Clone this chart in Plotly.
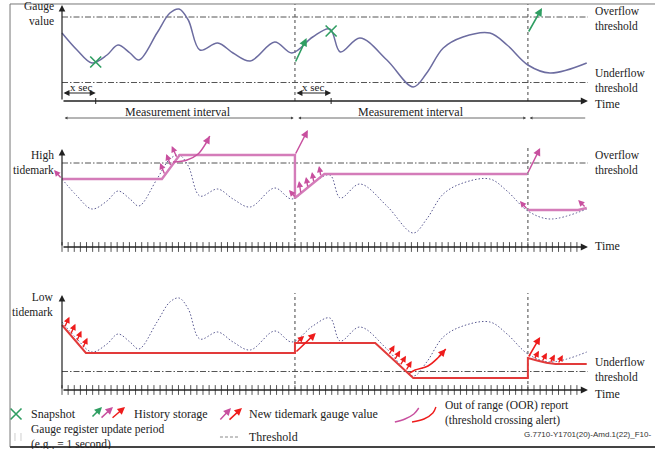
import plotly.graph_objects as go

# ---------------- data (time in seconds, gauge value in arbitrary units) ----------------
gauge_t = [0, 2.45, 4.89, 7.34, 9.14, 11.09, 12.56, 15.5, 17.6, 19.1, 20.6, 22.5, 25.4, 27.9,
           30.7, 34.7, 37.5, 40.9, 43.7, 45.4, 48.6, 53.0, 57.3, 59.5, 62.2, 65.4, 69.8, 72.6,
           76.0, 79.6, 85.6]
gauge_v = [68, 51, 38, 46, 56, 48, 41, 68, 88, 92, 81, 51, 58, 48,
           40, 59, 48, 64, 72, 49, 63, 41, 14, 28, 53, 64, 68, 56,
           36, 28, 38]
snapshot_t = [5.5, 43.9]
snapshot_v = [39, 70]
interval_starts = [0, 38, 76]
time_axis_end = 85.8
overflow_threshold = 84
underflow_threshold = 18.5
tick_t = list(range(0, 85))

high_t = [0, 16.3, 19.2, 38, 38, 42.8, 75.9]
high_v = [68, 68, 92, 92, 49, 73, 73]
high2_t = [76, 84.2, 85.6]
high2_v = [37, 37, 39]

low_t = [0, 3.9, 38, 38, 51.1, 57.3, 76, 76, 77.5, 79, 80.5, 85.6]
low_v = [65, 37, 37, 47, 47, 12, 12, 32, 29.5, 27.3, 26, 26]

# arrows: (t_start, v_start, t_end, v_end)
history_arrows = [(38, 38, 39.9, 63), (76, 68, 78.3, 93)]
high_new_arrows = [(0, 68, -1.3, 77), (16.8, 72, 16.0, 84), (17.8, 80.4, 17.0, 93), (18.8, 88.7, 17.9, 101),
                   (38.17, 49, 37.03, 57), (38.99, 53, 38.66, 66), (40.13, 59, 39.8, 70),
                   (41.1, 64, 40.78, 75), (42.25, 70.3, 41.92, 81), (76, 37, 74.7, 46), (85.5, 39, 84.2, 47)]
high_oor_arrows = [(38, 92, 40.1, 117), (75.9, 73, 78.0, 99)]
high_oor_curve_t = [18.1, 20.4, 22.2, 23.5, 24.1]
high_oor_curve_v = [85, 87, 93, 104, 111]

low_new_arrows = [(0.39, 62.2, 1.21, 73.2), (1.37, 55.2, 2.19, 66.2), (2.35, 48.2, 3.17, 59.2), (3.33, 41.2, 4.15, 52.2),
                  (38.2, 47, 39.5, 54),
                  (53.27, 34.75, 54.25, 44.75), (54.2, 29.5, 55.18, 39.5), (55.13, 24.25, 56.11, 34.25), (56.06, 19, 57.04, 29),
                  (77, 30.3, 77.8, 39.3), (78.3, 28.2, 79.1, 37.2), (79.6, 26.6, 80.4, 35.6), (80.9, 26, 81.7, 35)]
low_oor_arrows = [(38, 37, 41.4, 57), (76, 32, 78, 53)]
low_oor_curve_t = [56.6, 57.6, 59.7, 61.3, 62.6]
low_oor_curve_v = [16.5, 20, 24, 32, 41]

# ---------------- styling ----------------
SERIF = "Liberation Serif, Times New Roman, Times, DejaVu Serif, serif"
SANS = "Liberation Sans, Arial, sans-serif"
GRAPH = "#6c6ca0"
DOT = "#5a5a92"
PINK = "#d47cb9"
PINK_A = "#c8509f"
RED = "#e23a3a"
RED_A = "#ee1c1c"
GREEN = "#2f9e62"
THR = "#555555"
VDASH = "#7a7a7a"
AXIS = "#222222"
TXT = "#222222"

fig = go.Figure()


def line(t, v, yax, color, width, dash="solid", shape="linear"):
    fig.add_trace(go.Scatter(x=t, y=v, yaxis=yax, mode="lines",
                             line=dict(color=color, width=width, dash=dash, shape=shape),
                             hoverinfo="skip", showlegend=False))


def arrow(t0, v0, t1, v1, yref, color, width=1.3, size=1.0, head=2, side="end"):
    fig.add_annotation(x=t1, y=v1, ax=t0, ay=v0, xref="x", yref=yref, axref="x", ayref=yref,
                       text="", showarrow=True, arrowhead=head, arrowsize=size, arrowwidth=width,
                       arrowcolor=color, arrowside=side, standoff=0, startstandoff=0)


def text(t, v, s, yref, anchor="left", size=12, color=TXT, family=SERIF, align="left"):
    fig.add_annotation(x=t, y=v, xref="x", yref=yref, text=s, showarrow=False, align=align,
                       xanchor=anchor, yanchor="middle", font=dict(family=family, size=size, color=color))


panels = ["y", "y2", "y3"]
dash_tops = {"y": [97, 97], "y2": [92, 99], "y3": [97, 97]}
axis_tops = {"y": 96, "y2": 98, "y3": 95}

for yax in panels:
    for b, top in zip(interval_starts[1:], dash_tops[yax]):
        line([b, b], [0, top], yax, VDASH, 1.4, dash="3px,3px")

# thresholds
DD = "6px,2px,1.5px,2px"
line([0, time_axis_end], [overflow_threshold] * 2, "y", THR, 1, dash=DD)
line([0, time_axis_end], [underflow_threshold] * 2, "y", THR, 1, dash=DD)
line([0, time_axis_end], [overflow_threshold] * 2, "y2", THR, 1, dash=DD)
line([0, time_axis_end], [underflow_threshold] * 2, "y3", THR, 1, dash=DD)

# gauge curves
line(gauge_t, gauge_v, "y", GRAPH, 1.5, shape="spline")
line(gauge_t, gauge_v, "y2", DOT, 1.0, dash="1.5px,2px", shape="spline")
line(gauge_t, gauge_v, "y3", DOT, 1.0, dash="1.5px,2px", shape="spline")

# ticks on time axes
for yax in ["y2", "y3"]:
    fig.add_trace(go.Scatter(x=tick_t, y=[0] * len(tick_t), yaxis=yax, mode="markers",
                             marker=dict(symbol="line-ns", size=7, line=dict(width=1, color="#555")),
                             hoverinfo="skip", showlegend=False))

# axes
for yax in panels:
    arrow(0, 0, 0, axis_tops[yax], yax, AXIS, width=1.2, size=1.1)
    arrow(0, 0, time_axis_end, 0, yax, AXIS, width=1.3, size=1.1)

# snapshots
fig.add_trace(go.Scatter(x=snapshot_t, y=snapshot_v, yaxis="y", mode="markers",
                         marker=dict(symbol="x-thin", size=11, line=dict(width=1.6, color=GREEN)),
                         hoverinfo="skip", showlegend=False))
for a in history_arrows:
    arrow(*a, "y", GREEN, width=1.6, size=1.0)

# x sec markers
for s in snapshot_t:
    line([s, s], [-3, 3], "y", AXIS, 1)
for s0, s1 in zip(interval_starts[:2], snapshot_t):
    arrow(s0, 8, s1, 8, "y", AXIS, width=1.2, size=1.0, side="end+start")
    text(s0 + 0.9, 14, "x sec", "y", size=11)

# measurement interval
arrow(0.2, -17, 37.8, -17, "y", "#444", width=0.8, size=0.7, side="end+start")
arrow(38.3, -17, 75.7, -17, "y", "#444", width=0.8, size=0.7, side="end+start")
arrow(85.6, -17, 76.3, -17, "y", "#444", width=0.8, size=0.7)
text(18.9, -11, "Measurement interval", "y", anchor="center")
text(57.0, -11, "Measurement interval", "y", anchor="center")

# high tidemark
line(high_t, high_v, "y2", PINK, 2.4)
line(high2_t, high2_v, "y2", PINK, 2.4)
line(high_oor_curve_t, high_oor_curve_v, "y2", PINK_A, 1.5, shape="spline")
arrow(high_oor_curve_t[-2], high_oor_curve_v[-2], high_oor_curve_t[-1], high_oor_curve_v[-1], "y2", PINK_A, width=1.5)
for a in high_oor_arrows:
    arrow(*a, "y2", PINK_A, width=1.5)
for a in high_new_arrows:
    arrow(*a, "y2", PINK_A, width=1.4, size=0.9)

# low tidemark
line(low_t, low_v, "y3", RED, 2.0)
line(low_oor_curve_t, low_oor_curve_v, "y3", RED_A, 1.5, shape="spline")
arrow(low_oor_curve_t[-2], low_oor_curve_v[-2], low_oor_curve_t[-1], low_oor_curve_v[-1], "y3", RED_A, width=1.5)
for a in low_oor_arrows:
    arrow(*a, "y3", RED_A, width=1.5)
for a in low_new_arrows:
    arrow(*a, "y3", RED_A, width=1.4, size=0.9)

# panel labels (two-line labels as one text each)
text(-1.0, 88, "Gauge<br>value", "y", anchor="right", size=11.5, align="right")
text(86.6, 82.5, "Overflow<br>threshold", "y", size=11.5)
text(86.6, 21, "Underflow<br>threshold", "y", size=11.5)
text(86.6, -2.5, "Time", "y")

text(-1.0, 85, "High<br>tidemark", "y2", anchor="right", size=11.5, align="right")
text(86.6, 85, "Overflow<br>threshold", "y2", size=11.5)
text(86.6, 1, "Time", "y2")

text(-1.0, 86, "Low<br>tidemark", "y3", anchor="right", size=11.5, align="right")
text(86.6, 20.5, "Underflow<br>threshold", "y3", size=11.5)
text(86.6, -3.5, "Time", "y3")

# ---------------- key ----------------
fig.add_trace(go.Scatter(x=[-7.5], y=[-24], yaxis="y3", mode="markers",
                         marker=dict(symbol="x-thin", size=11, line=dict(width=1.6, color=GREEN)),
                         hoverinfo="skip", showlegend=False))
text(-5.38, -24, "Snapshot", "y3")
arrow(4.73, -28, 6.53, -17, "y3", GREEN, width=1.5)
arrow(6.2, -29, 8.32, -17, "y3", PINK_A, width=1.5)
arrow(8.0, -29, 10.28, -17, "y3", RED_A, width=1.5)
text(11.42, -24, "History storage", "y3")
arrow(25.6, -31, 27.57, -18, "y3", PINK_A, width=1.5)
arrow(27.08, -31, 29.36, -18, "y3", RED_A, width=1.5)
text(30.18, -24, "New tidemark gauge value", "y3")
line([54.3, 55.95, 57.4, 58.2], [-32, -29, -24, -18], "y3", PINK_A, 1.4, shape="spline")
arrow(58.2, -18, 58.5, -16, "y3", PINK_A, width=1.4)
line([57.1, 59.05, 60.5, 61.0], [-32, -29, -23, -17], "y3", RED_A, 1.4, shape="spline")
arrow(61.0, -17, 61.3, -15, "y3", RED_A, width=1.4)
text(62.15, -23, "Out of range (OOR) report<br>(threshold crossing alert)", "y3", size=11.5)
line([-7.67, -7.67], [-43, -51], "y3", "#cfcfcf", 1)
line([-6.69, -6.69], [-43, -51], "y3", "#cfcfcf", 1)
text(-5.38, -46.5, "Gauge register update period<br>(e.g., = 1 second)", "y3", size=11.5)
line([25.77, 29.04], [-47, -47], "y3", "#888", 1, dash="3px,2px")
text(30.18, -47, "Threshold", "y3")
text(75.04, -44, "G.7710-Y1701(20)-Amd.1(22)_F10-", "y3", size=8, color="#333", family=SANS)

# frame
fig.add_shape(type="line", xref="paper", yref="paper", x0=0.0153, x1=1.0, y0=0.9911, y1=0.9911,
              line=dict(color="#777", width=1))
fig.add_shape(type="line", xref="paper", yref="paper", x0=0.0153, x1=0.0153, y0=0.9911, y1=0.0045,
              line=dict(color="#777", width=1))
fig.add_shape(type="line", xref="paper", yref="paper", x0=0.0153, x1=1.0, y0=0.0045, y1=0.0045,
              line=dict(color="#444", width=2))

ax_common = dict(visible=False, fixedrange=True)
fig.update_layout(
    width=655, height=449, margin=dict(l=0, r=0, t=0, b=0),
    paper_bgcolor="white", plot_bgcolor="white", showlegend=False,
    font=dict(family=SERIF, color=TXT),
    xaxis=dict(range=[-10.114, 96.737], domain=[0, 1], **ax_common),
    yaxis=dict(range=[-348, 101], domain=[0, 1], **ax_common),
    yaxis2=dict(range=[-202, 247], overlaying="y", **ax_common),
    yaxis3=dict(range=[-59, 390], overlaying="y", **ax_common),
)

fig.write_html("out.html", config={"displayModeBar": False},
               post_script="document.body.style.margin='0';document.body.style.padding='0';")
